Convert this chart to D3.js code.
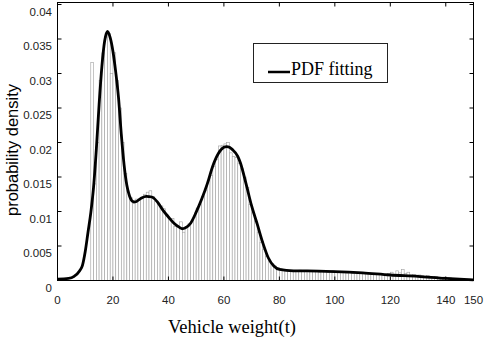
<!DOCTYPE html>
<html>
<head>
<meta charset="utf-8">
<script src="https://cdn.jsdelivr.net/npm/d3@7"></script>
<style>
  body { margin: 0; background: #fff; }
  svg { display: block; }
</style>
</head>
<body>
<svg width="484" height="340"></svg>
<script>
// histogram: one bar per tonne, starting at 12 t
const binStart = 12;
const binWidth = 1;
const histValues = [
  0.0316, 0.0140, 0.0200, 0.0290, 0.0330, 0.0352, 0.0358, 0.0300, 0.0330, 0.0290,   // 12-21
  0.0250, 0.0200, 0.0155, 0.0130, 0.0120, 0.0112, 0.0118, 0.0116, 0.0120, 0.0125,   // 22-31
  0.0128, 0.0130, 0.0122, 0.0115, 0.0110, 0.0108, 0.0104, 0.0095, 0.0088, 0.0090,   // 32-41
  0.0078, 0.0080, 0.0085, 0.0070, 0.0078, 0.0082, 0.0086, 0.0092, 0.0105, 0.0110,   // 42-51
  0.0122, 0.0130, 0.0145, 0.0152, 0.0165, 0.0175, 0.0195, 0.0196, 0.0198, 0.0200,   // 52-61
  0.0185, 0.0180, 0.0178, 0.0170, 0.0162, 0.0150, 0.0135, 0.0110, 0.0098, 0.0086,   // 62-71
  0.0070, 0.0055, 0.0045, 0.0035, 0.0028, 0.0024, 0.0021, 0.0019, 0.0017, 0.0015,   // 72-81
  0.0016, 0.0014, 0.0015, 0.0014, 0.0013, 0.0015, 0.0014, 0.0013, 0.0014, 0.0013,   // 82-91
  0.0014, 0.0013, 0.0012, 0.0014, 0.0013, 0.0012, 0.0013, 0.0014, 0.0012, 0.0013,   // 92-101
  0.0012, 0.0013, 0.0011, 0.0012, 0.0010, 0.0011, 0.0012, 0.0010, 0.0011, 0.0010,   // 102-111
  0.0011, 0.0010, 0.0009, 0.0010, 0.0009, 0.0008, 0.0009, 0.0010, 0.0012, 0.0009,   // 112-121
  0.0014, 0.0011, 0.0016, 0.0010, 0.0012, 0.0008, 0.0009, 0.0007, 0.0008, 0.0007,   // 122-131
  0.0006, 0.0007, 0.0006, 0.0005, 0.0006, 0.0005, 0.0004, 0.0005, 0.0003, 0.0004,   // 132-141
  0.0003, 0.0003, 0.0002, 0.0003, 0.0002, 0.0002, 0.0002                            // 142-148
];

// fitted pdf
const fitX = [0, 4, 6, 8, 9, 10, 11, 12, 13, 14, 15, 16, 17, 18, 19, 20, 21, 22, 23, 24,
  25, 26, 27, 28, 30, 32, 34, 36, 38, 40, 42, 44, 45, 46, 48, 50, 52, 54, 56, 58,
  60, 61, 62, 63, 65, 66, 68, 70, 72, 74, 76, 78, 80, 85, 90, 100, 110, 120, 130, 140, 145, 150];
const fitY = [0.0002, 0.0003, 0.0006, 0.0014, 0.0022, 0.0042, 0.0070, 0.0098, 0.0135, 0.0190,
  0.0255, 0.0310, 0.0347, 0.0361, 0.0352, 0.0332, 0.0302, 0.0265, 0.0212, 0.0168,
  0.0138, 0.0122, 0.0115, 0.0114, 0.0119, 0.0122, 0.0121, 0.0114, 0.0102, 0.0092,
  0.0083, 0.0077, 0.0075, 0.0076, 0.0083, 0.0099, 0.0118, 0.0140, 0.0166, 0.0184,
  0.0193, 0.0194, 0.0193, 0.0190, 0.0180, 0.0170, 0.0140, 0.0108, 0.0082, 0.0055,
  0.0033, 0.0021, 0.0016, 0.0014, 0.0014, 0.0013, 0.0011, 0.0008, 0.0006, 0.0003, 0.0002, 0.0001];

const xTicks = [0, 20, 40, 60, 80, 100, 120, 140, 150];
const yTicks = [0, 0.005, 0.01, 0.015, 0.02, 0.025, 0.03, 0.035, 0.04];

const pLeft = 57.5, pRight = 473.5, pTop = 2.5, pBottom = 280.5;

const x = d3.scaleLinear().domain([0, 150]).range([pLeft, pRight]);
const y = d3.scaleLinear().domain([0, 0.04]).range([pBottom, 4.5]);

const svg = d3.select("svg");

// bars
svg.append("g")
  .selectAll("rect")
  .data(histValues)
  .enter().append("rect")
  .attr("x", (d, i) => x(binStart + i * binWidth))
  .attr("width", (d, i) => x(binStart + (i + 1) * binWidth) - x(binStart + i * binWidth))
  .attr("y", d => y(d))
  .attr("height", d => pBottom - y(d))
  .attr("fill", "#fff")
  .attr("stroke", "#a0a0a0")
  .attr("stroke-width", 0.6);

// pdf curve
const line = d3.line()
  .x(d => x(d[0]))
  .y(d => y(d[1]))
  .curve(d3.curveMonotoneX);

svg.append("path")
  .datum(fitX.map((v, i) => [v, fitY[i]]))
  .attr("d", line)
  .attr("fill", "none")
  .attr("stroke", "#000")
  .attr("stroke-width", 2.8)
  .attr("stroke-linejoin", "round");

// box
svg.append("rect")
  .attr("x", pLeft).attr("y", pTop)
  .attr("width", pRight - pLeft).attr("height", pBottom - pTop)
  .attr("fill", "none").attr("stroke", "#000").attr("stroke-width", 1);

// inside ticks, mirrored
const tl = 4;
const tk = svg.append("g").attr("stroke", "#000").attr("stroke-width", 1);
xTicks.forEach(t => {
  tk.append("line").attr("x1", x(t)).attr("x2", x(t)).attr("y1", pBottom).attr("y2", pBottom - tl);
  tk.append("line").attr("x1", x(t)).attr("x2", x(t)).attr("y1", pTop).attr("y2", pTop + tl);
});
yTicks.forEach(t => {
  tk.append("line").attr("x1", pLeft).attr("x2", pLeft + tl).attr("y1", y(t)).attr("y2", y(t));
  tk.append("line").attr("x1", pRight).attr("x2", pRight - tl).attr("y1", y(t)).attr("y2", y(t));
});

// tick labels
svg.append("g").selectAll("text")
  .data(xTicks)
  .enter().append("text")
  .attr("x", d => x(d))
  .attr("y", 303.5)
  .attr("text-anchor", "middle")
  .attr("font-family", "Liberation Sans, Arial, sans-serif")
  .attr("font-size", 11.5)
  .attr("fill", "#222")
  .text(d => d);

svg.append("g").selectAll("text")
  .data(yTicks)
  .enter().append("text")
  .attr("x", 52)
  .attr("y", d => y(d) + 11)
  .attr("text-anchor", "end")
  .attr("font-family", "Liberation Sans, Arial, sans-serif")
  .attr("font-size", 11.5)
  .attr("fill", "#222")
  .text(d => d);

// axis labels
svg.append("text")
  .attr("x", 232)
  .attr("y", 333)
  .attr("text-anchor", "middle")
  .attr("font-family", "Liberation Serif, Times New Roman, serif")
  .attr("font-size", 18.5)
  .text("Vehicle weight(t)");

svg.append("text")
  .attr("transform", "translate(18,150) rotate(-90)")
  .attr("text-anchor", "middle")
  .attr("font-family", "Liberation Sans, Arial, sans-serif")
  .attr("font-size", 16.5)
  .text("probability density");

// legend
const lg = svg.append("g");
lg.append("rect")
  .attr("x", 253.5).attr("y", 43.5).attr("width", 134).attr("height", 39)
  .attr("fill", "#fff").attr("stroke", "#222").attr("stroke-width", 1);
lg.append("line")
  .attr("x1", 268).attr("x2", 290).attr("y1", 72).attr("y2", 72)
  .attr("stroke", "#000").attr("stroke-width", 2.5);
lg.append("text")
  .attr("x", 291).attr("y", 75)
  .attr("font-family", "Liberation Serif, Times New Roman, serif")
  .attr("font-size", 18)
  .text("PDF fitting");
</script>
</body>
</html>
